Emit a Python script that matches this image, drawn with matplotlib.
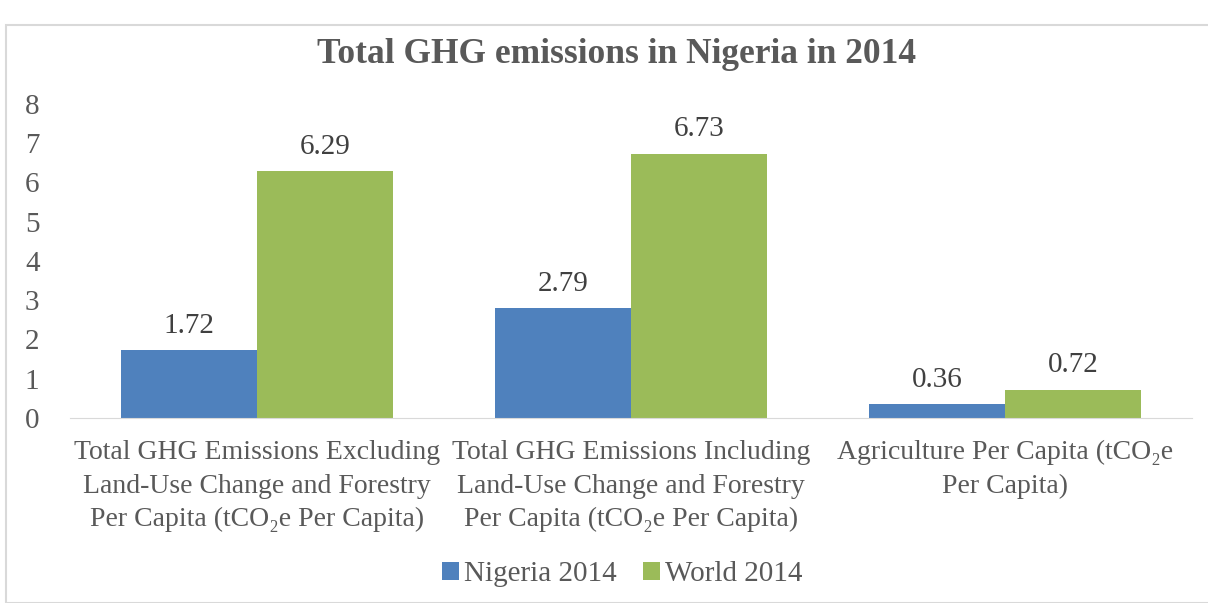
import matplotlib.pyplot as plt
import numpy as np
from matplotlib.patches import Rectangle

# Data
categories = [
    "Total GHG Emissions Excluding\nLand-Use Change and Forestry\nPer Capita (tCO\u2082e Per Capita)",
    "Total GHG Emissions Including\nLand-Use Change and Forestry\nPer Capita (tCO\u2082e Per Capita)",
    "Agriculture Per Capita (tCO\u2082e\nPer Capita)",
]
nigeria_2014 = [1.72, 2.79, 0.36]
world_2014 = [6.29, 6.73, 0.72]
series_names = ["Nigeria 2014", "World 2014"]

text_color = "#595959"
plt.rcParams['font.family'] = ['Liberation Serif', 'DejaVu Serif']

fig = plt.figure(figsize=(12.08, 6.03), dpi=100)
ax = fig.add_axes([0.058, 0.307, 0.929, 0.521])

x = np.arange(len(categories))
w = 0.364
b1 = ax.bar(x - w / 2, nigeria_2014, w, color="#4f81bd", label=series_names[0])
b2 = ax.bar(x + w / 2, world_2014, w, color="#9bbb59", label=series_names[1])

for bars, vals in [(b1, nigeria_2014), (b2, world_2014)]:
    for bar, v in zip(bars, vals):
        ax.annotate(f"{v:.2f}", (bar.get_x() + bar.get_width() / 2, v),
                    xytext=(0, 8), textcoords="offset points",
                    ha="center", va="bottom", fontsize=21, color="#404040")

ax.set_xlim(-0.5, 2.5)
ax.set_ylim(0, 8)
ax.set_yticks(range(0, 9))
ax.set_xticks(x)
ax.set_xticklabels(categories, fontsize=20, color=text_color, linespacing=1.45)
ax.tick_params(axis="y", labelsize=21, labelcolor=text_color, length=0, pad=22)
ax.tick_params(axis="x", length=0, pad=16)
for s in ["top", "right", "left"]:
    ax.spines[s].set_visible(False)
ax.spines["bottom"].set_color("#d9d9d9")

fig.suptitle("Total GHG emissions in Nigeria in 2014", x=0.51, y=0.937,
             fontsize=25.5, fontweight="bold", color=text_color)

leg = fig.legend(loc="center", bbox_to_anchor=(0.515, 0.048), ncol=2, frameon=False,
                 fontsize=21, handlelength=0.6, handleheight=0.6,
                 handletextpad=0.15, columnspacing=0.9)
for t in leg.get_texts():
    t.set_color(text_color)

# chart border
fig.patches.append(Rectangle((0.005, 0.0), 1.2, 0.958, transform=fig.transFigure,
                             fill=False, edgecolor="#d9d9d9", linewidth=1.5))

fig.savefig("out.png", dpi=100)
